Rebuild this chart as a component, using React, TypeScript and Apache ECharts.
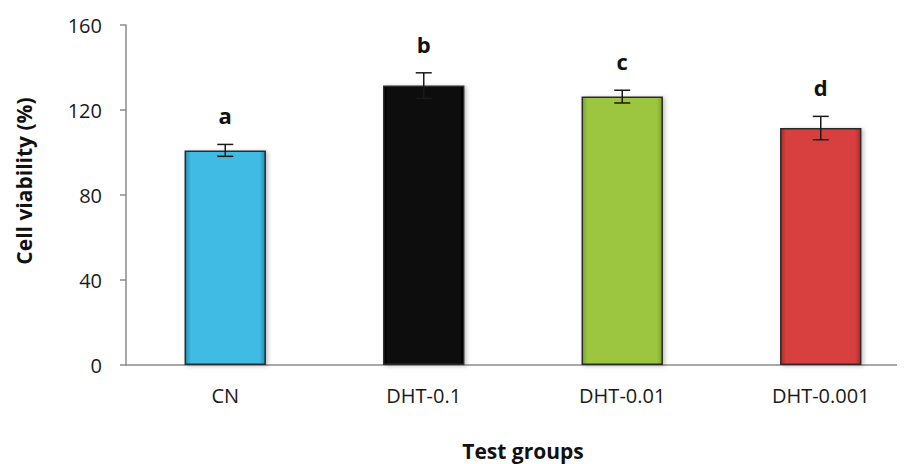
import React, { useEffect, useRef } from "react";
import * as echarts from "echarts";

const categories = ["CN", "DHT-0.1", "DHT-0.01", "DHT-0.001"];
const values = [101, 131.5, 126.3, 111.5];
const errors = [2.8, 6, 3, 5.5];
const letters = ["a", "b", "c", "d"];
const yTicks = [0, 40, 80, 120, 160];

const barColors = [
  ["#3fbbe3", "#2590b5"],
  ["#0d0d0d", "#000000"],
  ["#9cc640", "#7fa52e"],
  ["#d83f3f", "#b02a2a"],
];

export default function App() {
  const ref = useRef<HTMLDivElement>(null);
  useEffect(() => {
    const chart = echarts.init(ref.current!, undefined, { renderer: "svg" });
    const font = "'Open Sans', 'Noto Sans', sans-serif";
    chart.setOption({
      animation: false,
      grid: { left: 118, top: 17, width: 794, height: 340, containLabel: false, outerBoundsMode: "none" },
      xAxis: {
        type: "category",
        data: categories,
        axisLine: { lineStyle: { color: "#8c8c8c", width: 1.5 } },
        axisTick: { show: false },
        axisLabel: { color: "#1a1a1a", fontSize: 20, fontFamily: font, margin: 20 },
        name: "Test groups",
        nameLocation: "middle",
        nameGap: 75,
        nameTextStyle: { color: "#111", fontSize: 21, fontWeight: "bold", fontFamily: font },
      },
      yAxis: {
        type: "value",
        min: yTicks[0],
        max: yTicks[yTicks.length - 1],
        interval: 40,
        axisLine: { show: true, lineStyle: { color: "#8c8c8c", width: 1.5 } },
        axisTick: { show: true, inside: false, length: 6, lineStyle: { color: "#8c8c8c", width: 1.5 } },
        splitLine: { show: false },
        axisLabel: { color: "#1a1a1a", fontSize: 20, fontFamily: font, margin: 24 },
        name: "Cell viability (%)",
        nameLocation: "middle",
        nameGap: 92,
        nameTextStyle: { color: "#111", fontSize: 21, fontWeight: "bold", fontFamily: font, padding: [0, 0, 0, 28] },
      },
      series: [
        {
          type: "bar",
          barWidth: "41%",
          data: values.map((v, i) => ({
            value: v,
            itemStyle: {
              color: new echarts.graphic.LinearGradient(0, 0, 1, 0, [
                { offset: 0, color: barColors[i][1] },
                { offset: 0.07, color: barColors[i][0] },
                { offset: 0.93, color: barColors[i][0] },
                { offset: 1, color: barColors[i][1] },
              ]),
              borderColor: "#2a2a2a",
              borderWidth: 1.5,
              shadowColor: "rgba(0,0,0,0.25)",
              shadowBlur: 4,
              shadowOffsetX: 2,
              shadowOffsetY: 1,
            },
          })),
          z: 2,
        },
        {
          type: "custom",
          z: 5,
          data: values.map((v, i) => [i, v, errors[i]]),
          renderItem: (params: any, api: any) => {
            const i = api.value(0);
            const v = api.value(1);
            const e = api.value(2);
            const top = api.coord([i, v + e]);
            const bot = api.coord([i, v - e]);
            const cap = 8;
            const style = { stroke: "#1a1a1a", lineWidth: 1.5 };
            return {
              type: "group",
              children: [
                { type: "line", shape: { x1: top[0], y1: top[1], x2: bot[0], y2: bot[1] }, style },
                { type: "line", shape: { x1: top[0] - cap, y1: top[1], x2: top[0] + cap, y2: top[1] }, style },
                { type: "line", shape: { x1: bot[0] - cap, y1: bot[1], x2: bot[0] + cap, y2: bot[1] }, style },
                {
                  type: "text",
                  style: {
                    text: letters[params.dataIndex],
                    x: top[0],
                    y: top[1] - 29,
                    align: "center",
                    verticalAlign: "middle",
                    fontSize: 22,
                    fontWeight: "bold",
                    fontFamily: font,
                    fill: "#111",
                  },
                },
              ],
            };
          },
        },
      ],
    });
    return () => chart.dispose();
  }, []);
  return <div ref={ref} style={{ width: 897, height: 456 }} />;
}
